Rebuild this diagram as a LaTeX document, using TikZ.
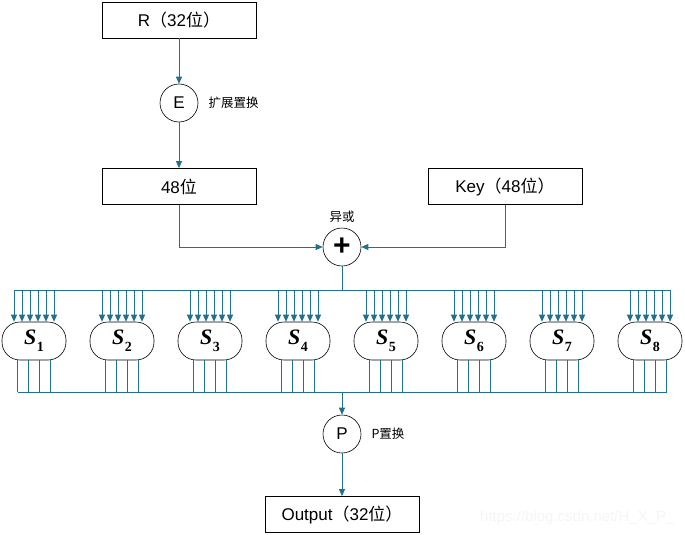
\documentclass[tikz,border=0pt]{standalone}
\usepackage{fontspec}
\usepackage{xcolor}
\setmainfont{Liberation Sans}
\newfontfamily\zhfont{Noto Sans CJK SC}
\newfontfamily\sbfont{Liberation Serif}
\usetikzlibrary{arrows.meta}
\definecolor{wireblue}{RGB}{32,112,142}
\newcommand{\zh}[1]{{\zhfont #1}}
\newcommand{\Sname}[1]{{\sbfont\bfseries\itshape S\kern0.5pt\raisebox{-0.3em}{\fontsize{14}{14}\selectfont\upshape #1}}}

\begin{document}
\begin{tikzpicture}[x=1pt,y=-1pt,
	box/.style={draw, line width=0.8pt, minimum width=154pt, minimum height=36pt, inner sep=0pt, font=\fontsize{17}{20}\selectfont},
	op/.style={draw, circle, line width=0.6pt, minimum size=38pt, inner sep=0pt, font=\fontsize{17}{20}\selectfont},
	sbox/.style={draw, rounded corners=18pt, line width=0.6pt, minimum width=64pt, minimum height=38pt, inner sep=0pt, font=\fontsize{22}{24}\selectfont},
	note/.style={font=\zhfont\fontsize{12.5}{14}\selectfont},
	wire/.style={draw=wireblue, line width=0.8pt},
	arr/.style={wire, -{Triangle[length=7pt,width=6pt]}}]
	
	\useasboundingbox (0,0) rectangle (685,535);
	
	% upper part
	\node[box] (R) at (179,20) {R\zh{（}32\zh{位）}};
	\node[op] (E) at (179,103) {E};
	\node[note, anchor=west] (Elbl) at (205,103) {扩展置换};
	\node[box] (half) at (179,186.5) {48\zh{位}};
	\node[box] (key) at (505,186.5) {Key\zh{（}48\zh{位）}};
	\node[op, font=\bfseries\fontsize{30}{30}\selectfont] (xor) at (342,247) {+};
	\node[note] (xorlbl) at (342,217) {异或};
	
	\draw[arr] (R) -- (E);
	\draw[arr] (E) -- (half);
	\draw[arr] (half.south) |- (xor.west);
	\draw[arr] (key.south) |- (xor.east);
	
	% S boxes
	\coordinate (topL) at (14,290);
	\coordinate (topR) at (670,290);
	\coordinate (botL) at (17.5,392);
	\coordinate (botR) at (666.5,392);
	\draw[wire] (xor) -- (xor |- topL);
	\draw[wire] (topL) -- (topR);
	\draw[wire] (botL) -- (botR);
	
	\foreach \i in {1,...,8}{
		\node[sbox] (S\i) at ({34+88*(\i-1)},341) {\Sname{\i}};
		\foreach \o in {-20,-12,-4,4,12,20}
			\draw[arr] ([xshift=\o pt]S\i.north |- topL) -- ([xshift=\o pt]S\i.north);
		\foreach \o in {-16.5,-5.5,5.5,16.5}
			\draw[wire] ([xshift=\o pt]S\i.south) -- ([xshift=\o pt]S\i.south |- botL);
	}
	
	% lower part
	\node[op] (P) at (342,434) {P};
	\node[note, anchor=west] (Plbl) at (368,434) {P置换};
	\node[box] (out) at (342,514.5) {Output\zh{（}32\zh{位）}};
	
	\draw[arr] (P |- botL) -- (P);
	\draw[arr] (P) -- (out);
	
	\node[anchor=east, text=gray!8, font=\fontsize{15}{17}\selectfont] (mark) at (678,518) {https://blog.csdn.net/H\_X\_P\_};
\end{tikzpicture}
\end{document}
